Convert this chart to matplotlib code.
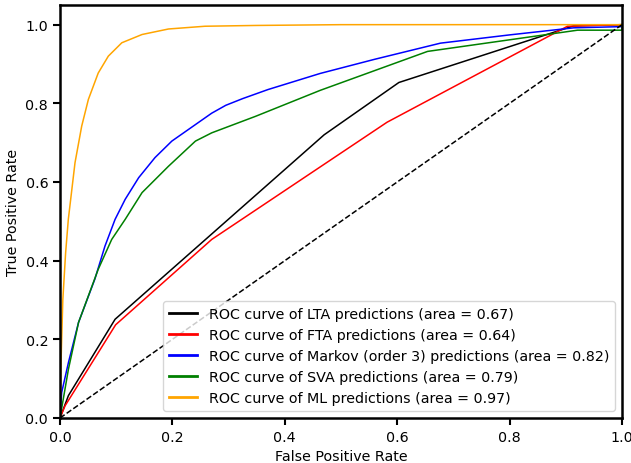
import matplotlib
matplotlib.use("Agg")
import matplotlib.pyplot as plt

# values
lta_fpr = [0.0, 0.015, 0.098, 0.47, 0.603, 0.914, 1.0]
lta_tpr = [0.0, 0.057, 0.251, 0.72, 0.853, 0.997, 1.0]

fta_fpr = [0.0, 0.009, 0.099, 0.27, 0.582, 0.903, 1.0]
fta_tpr = [0.0, 0.031, 0.237, 0.454, 0.752, 0.996, 1.0]

markov_fpr = [0.0, 0.003, 0.015, 0.033, 0.062, 0.080, 0.098, 0.116, 0.140, 0.169,
              0.199, 0.241, 0.270, 0.295, 0.325, 0.37, 0.463, 0.56, 0.677, 0.80,
              0.914, 1.0, 1.0]
markov_tpr = [0.0, 0.065, 0.141, 0.243, 0.353, 0.437, 0.505, 0.556, 0.611, 0.662,
              0.704, 0.746, 0.775, 0.795, 0.812, 0.835, 0.876, 0.912, 0.953, 0.974,
              0.992, 0.995, 1.0]

sva_fpr = [0.0, 0.015, 0.033, 0.068, 0.092, 0.116, 0.146, 0.193, 0.241, 0.270,
           0.348, 0.463, 0.654, 0.921, 1.0, 1.0]
sva_tpr = [0.0, 0.124, 0.243, 0.378, 0.454, 0.505, 0.573, 0.640, 0.704, 0.725,
           0.767, 0.833, 0.932, 0.986, 0.986, 1.0]

ml_fpr = [0.0, 0.002, 0.005, 0.010, 0.0148, 0.0267, 0.0386, 0.0505, 0.068, 0.086,
          0.110, 0.146, 0.193, 0.258, 0.348, 0.5, 1.0]
ml_tpr = [0.0, 0.15, 0.30, 0.42, 0.505, 0.649, 0.742, 0.810, 0.877, 0.920,
          0.954, 0.975, 0.989, 0.996, 0.998, 1.0, 1.0]

labels = [
    "ROC curve of LTA predictions (area = 0.67)",
    "ROC curve of FTA predictions (area = 0.64)",
    "ROC curve of Markov (order 3) predictions (area = 0.82)",
    "ROC curve of SVA predictions (area = 0.79)",
    "ROC curve of ML predictions (area = 0.97)",
]
colors = ["black", "red", "blue", "green", "orange"]

FONT_SIZE = 10.25


def main() -> None:
    fig = plt.figure(figsize=(6.31, 4.64), dpi=100)
    ax = fig.add_axes([60 / 631, 1 - 419 / 464, 562 / 631, 413 / 464])

    curves = [(lta_fpr, lta_tpr), (fta_fpr, fta_tpr), (markov_fpr, markov_tpr),
              (sva_fpr, sva_tpr), (ml_fpr, ml_tpr)]
    for (fpr, tpr), label, color in zip(curves, labels, colors):
        ax.plot(fpr, tpr, color=color, lw=1.1, label=label)

    ax.plot([0, 1], [0, 1], "k--", lw=1.1)
    ax.set_xlim(0.0, 1.0)
    ax.set_ylim(0.0, 1.05)
    ax.set_xlabel("False Positive Rate", fontsize=FONT_SIZE)
    ax.set_ylabel("True Positive Rate", fontsize=FONT_SIZE)
    ax.tick_params(labelsize=FONT_SIZE, width=1.5, length=5)
    for spine in ax.spines.values():
        spine.set_linewidth(1.8)

    leg = ax.legend(loc="lower right", fontsize=FONT_SIZE)
    for line in leg.get_lines():
        line.set_linewidth(2)

    fig.savefig("out.png", dpi=100)
    plt.close(fig)


if __name__ == "__main__":
    main()
